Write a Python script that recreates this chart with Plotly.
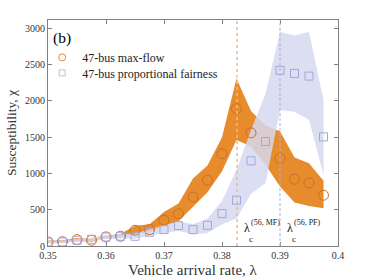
import plotly.graph_objects as go

# ---- data ----
rate = [0.35, 0.3525, 0.355, 0.3575, 0.36, 0.3625, 0.365, 0.3675, 0.37, 0.3725,
        0.375, 0.3775, 0.38, 0.3825, 0.385, 0.3875, 0.39, 0.3925, 0.395, 0.3975]

mf_mean = [55, 60, 88, 79, 125, 135, 217, 226, 355, 442,
           675, 907, 1271, 1892, 1560, None, 1207, 921, 870, 700]
mf_upper = [75, 80, 110, 100, 140, 165, 280, 300, 470, 585,
            930, 1110, 1500, 2310, 1860, 1660, 1580, 1220, 1140, 900]
mf_lower = [40, 45, 70, 60, 110, 120, 170, 190, 270, 340,
            540, 740, 1030, 1460, 1370, 1120, 820, 600, 550, 520]

pf_mean = [55, 55, 79, 92, 124, 134, 134, 189, 226, 282,
           226, 285, 447, 631, 1174, 1441, 2421, 2379, 2342, 1504]
pf_upper = [75, 75, 100, 115, 155, 165, 170, 230, 280, 340,
            300, 380, 620, 1050, 1600, 2100, 2950, 2900, 2950, 2010]
pf_lower = [35, 40, 55, 65, 95, 100, 100, 140, 170, 210,
            160, 180, 300, 380, 720, 870, 1874, 1850, 1740, 980]

lambda_c_mf = 0.3826
lambda_c_pf = 0.39

series_names = ["47-bus max-flow", "47-bus proportional fairness"]
x_ticks = [0.35, 0.36, 0.37, 0.38, 0.39, 0.4]
x_tick_text = ["0.35", "0.36", "0.37", "0.38", "0.39", "0.4"]
y_ticks = [0, 500, 1000, 1500, 2000, 2500, 3000]

FONT = "Liberation Serif"
ORANGE_FILL = "rgb(230,140,45)"
ORANGE_MARK = "rgb(205,110,40)"
ORANGE_LEG = "rgb(225,135,65)"
LAV_FILL = "rgba(214,216,238,0.85)"
LAV_MARK = "rgb(165,165,218)"
LAV_LEG = "rgb(190,190,225)"

fig = go.Figure()

# max-flow band
fig.add_trace(go.Scatter(x=rate, y=mf_lower, mode="lines", line=dict(width=0),
                         showlegend=False, hoverinfo="skip"))
fig.add_trace(go.Scatter(x=rate, y=mf_upper, mode="lines", line=dict(width=0),
                         fill="tonexty", fillcolor=ORANGE_FILL,
                         showlegend=False, hoverinfo="skip"))
# proportional fairness band
fig.add_trace(go.Scatter(x=rate, y=pf_lower, mode="lines", line=dict(width=0),
                         showlegend=False, hoverinfo="skip"))
fig.add_trace(go.Scatter(x=rate, y=pf_upper, mode="lines", line=dict(width=0),
                         fill="tonexty", fillcolor=LAV_FILL,
                         showlegend=False, hoverinfo="skip"))

# markers
fig.add_trace(go.Scatter(x=rate, y=mf_mean, mode="markers", showlegend=False,
                         marker=dict(symbol="circle-open", size=10,
                                     color=ORANGE_MARK, line=dict(width=1, color=ORANGE_MARK))))
fig.add_trace(go.Scatter(x=rate, y=pf_mean, mode="markers", showlegend=False,
                         marker=dict(symbol="square-open", size=8,
                                     color=LAV_MARK, line=dict(width=1, color=LAV_MARK))))

# legend entries (smaller symbols, as in the reference), one per legend box
fig.add_trace(go.Scatter(x=[None], y=[None], mode="markers", name=series_names[0],
                         legend="legend",
                         marker=dict(symbol="circle-open", size=7,
                                     color=ORANGE_LEG, line=dict(width=1, color=ORANGE_LEG))))
fig.add_trace(go.Scatter(x=[None], y=[None], mode="markers", name=series_names[1],
                         legend="legend2",
                         marker=dict(symbol="square-open", size=6,
                                     color=LAV_LEG, line=dict(width=1, color=LAV_LEG))))

# critical lines
fig.add_shape(type="line", xref="x", yref="paper", x0=lambda_c_mf, x1=lambda_c_mf,
              y0=0, y1=1, line=dict(color="rgb(240,185,140)", width=1.5, dash="dot"))
fig.add_shape(type="line", xref="x", yref="paper", x0=lambda_c_pf, x1=lambda_c_pf,
              y0=0, y1=1, line=dict(color="rgb(175,175,220)", width=1, dash="3px,2px"))

ann = []
ann.append(dict(x=0.012, y=0.92, xref="paper", yref="paper", text="(b)",
                showarrow=False, xanchor="left", yanchor="middle",
                font=dict(family=FONT, size=15.5, color="black")))
ann.append(dict(x=0.5, y=-0.106, xref="paper", yref="paper", text="Vehicle arrival rate, λ",
                showarrow=False, xanchor="center", yanchor="middle",
                font=dict(family=FONT, size=15, color="#333")))
for lam, tag in [(lambda_c_mf, "(56, MF)"), (lambda_c_pf, "(56, PF)")]:
    ann.append(dict(x=lam + 0.0009, y=255, xref="x", yref="y", text="λ",
                    showarrow=False, xanchor="left", yanchor="middle",
                    font=dict(family=FONT, size=12, color="#222")))
    ann.append(dict(x=lam + 0.0017, y=95, xref="x", yref="y", text="c",
                    showarrow=False, xanchor="left", yanchor="middle",
                    font=dict(family=FONT, size=9, color="#222")))
    ann.append(dict(x=lam + 0.0020, y=330, xref="x", yref="y", text=tag,
                    showarrow=False, xanchor="left", yanchor="middle",
                    font=dict(family=FONT, size=8, color="#222")))

legend_style = dict(xanchor="left", yanchor="top", bgcolor="rgba(0,0,0,0)",
                    font=dict(family=FONT, size=12, color="#222"), itemsizing="trace")

fig.update_layout(
    width=374, height=280,
    margin=dict(l=48, r=36, t=20, b=34),
    paper_bgcolor="white", plot_bgcolor="white",
    font=dict(family=FONT, size=10, color="#333"),
    annotations=ann,
    legend=dict(x=-0.02, y=0.899, **legend_style),
    legend2=dict(x=-0.02, y=0.830, **legend_style),
    xaxis=dict(range=[0.35, 0.4], tickvals=x_ticks, ticktext=x_tick_text,
               ticks="inside", ticklen=4, tickcolor="#808080", mirror="ticks",
               showline=True, linecolor="#808080", linewidth=1, showgrid=False,
               zeroline=False, automargin=False),
    yaxis=dict(range=[0, 3115], tickvals=y_ticks,
               ticks="inside", ticklen=4, tickcolor="#808080", mirror="ticks",
               showline=True, linecolor="#808080", linewidth=1, showgrid=False,
               zeroline=False, automargin=False,
               title=dict(text="Susceptibility, χ", standoff=5,
                          font=dict(family=FONT, size=13.5, color="#333"))),
)

fig.write_html("out.html", config={"displayModeBar": False},
               post_script="document.body.style.margin='0';document.body.style.padding='0';")
